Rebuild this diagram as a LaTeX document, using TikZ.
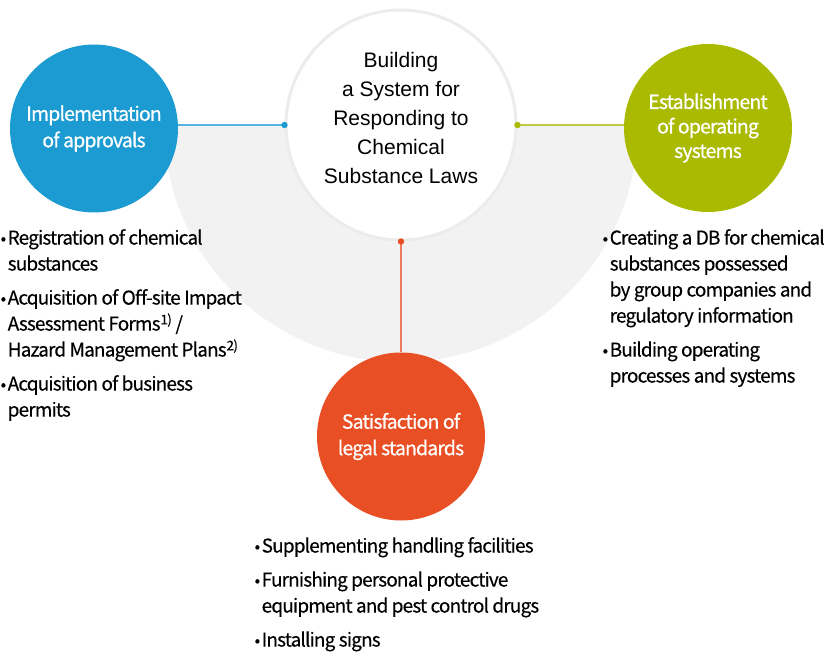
\documentclass[tikz,border=0pt]{standalone}
\usepackage{fontspec}
\setmainfont{Noto Sans CJK KR}[LetterSpace=-4.5, FakeBold=0.3]
\newfontfamily\topicfont{Noto Sans CJK KR}[LetterSpace=-4.5, FakeBold=0.7]
\newfontfamily\hubfont{Liberation Sans}
\usetikzlibrary{positioning}

\definecolor{approvblue}{HTML}{1B9BD1}
\definecolor{operatgreen}{HTML}{A9BA00}
\definecolor{legalred}{HTML}{E94F25}
\definecolor{halfgray}{HTML}{F2F2F2}
\definecolor{ringgray}{HTML}{ECECEC}

\newcommand{\bul}{\makebox[7pt][l]{\raisebox{0.5pt}{\fontsize{16}{16}\selectfont\textbullet}}}
\newcommand{\ind}{\hspace*{7pt}}

\begin{document}
\begin{tikzpicture}[
  x=1pt, y=-1pt,
  hub/.style={circle, draw=ringgray, line width=3pt, fill=white, minimum size=230pt, inner sep=0pt, align=center, font=\hubfont\fontsize{21}{29}\selectfont},
  topic/.style={circle, minimum size=168pt, inner sep=0pt, align=center, text=white, font=\topicfont\fontsize{19.5}{26.5}\selectfont},
  list/.style={inner sep=0pt, align=left, font=\fontsize{19}{26}\selectfont},
  link/.style={line width=1.2pt},
]
  \useasboundingbox (0,0) rectangle (827,652);

  % grey half disc behind the hub
  \begin{scope}
    \clip (0,125) rectangle (827,652);
    \fill[halfgray] (401,125) circle[radius=237];
  \end{scope}

  \node[hub] (hub) at (401,125) {Building\\a System for\\Responding to\\Chemical\\Substance Laws\rule[-15pt]{0pt}{1pt}};
  \node[topic, fill=approvblue] (approv) at (94,128.5) {Implementation\\of approvals};
  \node[topic, fill=operatgreen, font=\topicfont\fontsize{19.5}{24.5}\selectfont] (operat) at (708,128) {Establishment\\of operating\\systems};
  \node[topic, fill=legalred] (legal) at (401,436.5) {Satisfaction of\\legal standards};

  \draw[link, approvblue!75] (approv.east |- hub.west) -- (hub.west);
  \draw[link, operatgreen!75] (operat.west |- hub.east) -- (hub.east);
  \draw[link, legalred!75] (legal) -- (hub.south);
  \fill[approvblue] (hub.west) circle[radius=3.2];
  \fill[operatgreen] (hub.east) circle[radius=3.2];
  \fill[legalred] (hub.south) circle[radius=3.2];

  \node[list, anchor=north west] (approvlist) at (0.5,229) {%
    \bul Registration of chemical\\\ind substances\\[8pt]
    \bul Acquisition of Off-site Impact\\\ind Assessment Forms\textsuperscript{1)}\,/\\\ind Hazard Management Plans\textsuperscript{2)}\\[8pt]
    \bul Acquisition of business\\\ind permits};
  \node[list, anchor=north west] (operatlist) at (602.5,229) {%
    \bul Creating a DB for chemical\\\ind substances possessed\\\ind by group companies and\\\ind regulatory information\\[8pt]
    \bul Building operating\\\ind processes and systems};
  \node[list, anchor=north west] (legallist) at (254.5,537) {%
    \bul Supplementing handling facilities\\[8pt]
    \bul Furnishing personal protective\\\ind equipment and pest control drugs\\[8pt]
    \bul Installing signs};
\end{tikzpicture}
\end{document}
